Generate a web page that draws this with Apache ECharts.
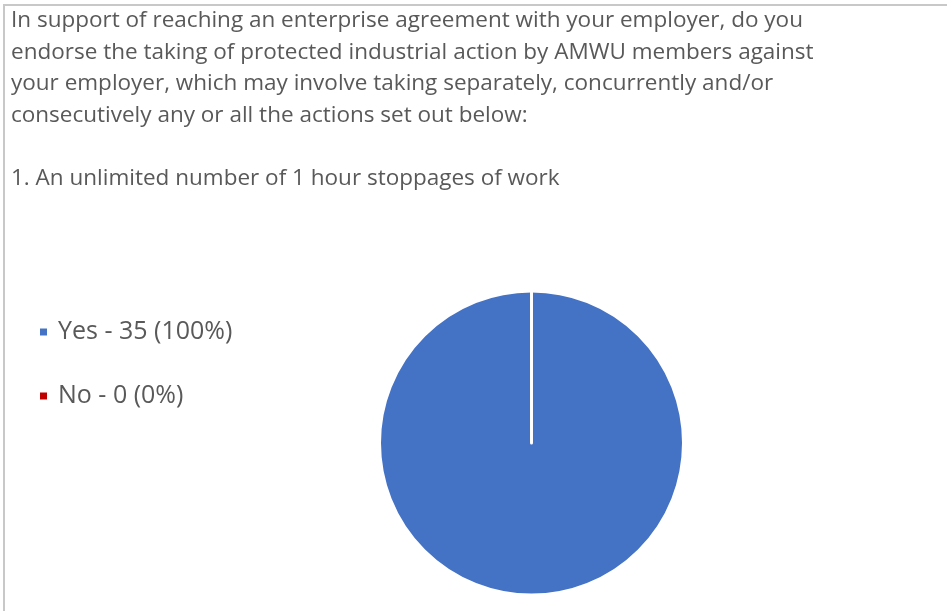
<!DOCTYPE html>
<html>
<head>
<meta charset="utf-8">
<script src="https://cdn.jsdelivr.net/npm/echarts@6/dist/echarts.min.js"></script>
<style>
  html, body { margin: 0; padding: 0; background: #fff; }
  #frame {
    position: absolute; left: 3px; top: 4px; width: 944px; height: 607px;
    border-top: 2px solid #c8c8c8; border-left: 2px solid #c8c8c8;
  }
  #chart { position: absolute; left: 0; top: 0; width: 947px; height: 611px; }
</style>
</head>
<body>
<div id="frame"></div>
<div id="chart"></div>
<script>
const questionLines = [
  'In support of reaching an enterprise agreement with your employer, do you',
  'endorse the taking of protected industrial action by AMWU members against',
  'your employer, which may involve taking separately, concurrently and/or',
  'consecutively any or all the actions set out below:',
  '',
  '1. An unlimited number of 1 hour stoppages of work'
];
const answers = ['Yes', 'No'];
const counts = [35, 0];
const colors = ['#4472c4', '#c00000'];

const total = counts.reduce((a, b) => a + b, 0);
const textColor = '#595959';
const font = 'Open Sans';

const chart = echarts.init(document.getElementById('chart'));

chart.setOption({
  animation: false,
  title: {
    text: questionLines.join('\n'),
    left: 11,
    top: 5,
    padding: 0,
    textStyle: {
      fontFamily: font,
      fontSize: 22.5,
      fontWeight: 'normal',
      color: textColor,
      lineHeight: 31.5
    }
  },
  legend: {
    orient: 'vertical',
    left: 38,
    top: 317,
    padding: 0,
    itemGap: 34,
    icon: 'rect',
    itemWidth: 9,
    itemHeight: 9,
    formatter: (name) => {
      const i = answers.indexOf(name);
      const pct = total ? Math.round(counts[i] / total * 100) : 0;
      return name + ' - ' + counts[i] + ' (' + pct + '%)';
    },
    textStyle: {
      fontFamily: font,
      fontSize: 25,
      lineHeight: 30,
      color: textColor,
      padding: [0, 0, 0, 5]
    }
  },
  series: [{
    type: 'pie',
    center: [531.5, 443],
    radius: 152,
    startAngle: 90,
    clockwise: true,
    label: { show: false },
    labelLine: { show: false },
    emphasis: { disabled: true },
    itemStyle: { borderColor: '#fff', borderWidth: 3 },
    data: answers.map((name, i) => ({
      name: name,
      value: counts[i],
      itemStyle: { color: colors[i] }
    }))
  }]
});
</script>
</body>
</html>
